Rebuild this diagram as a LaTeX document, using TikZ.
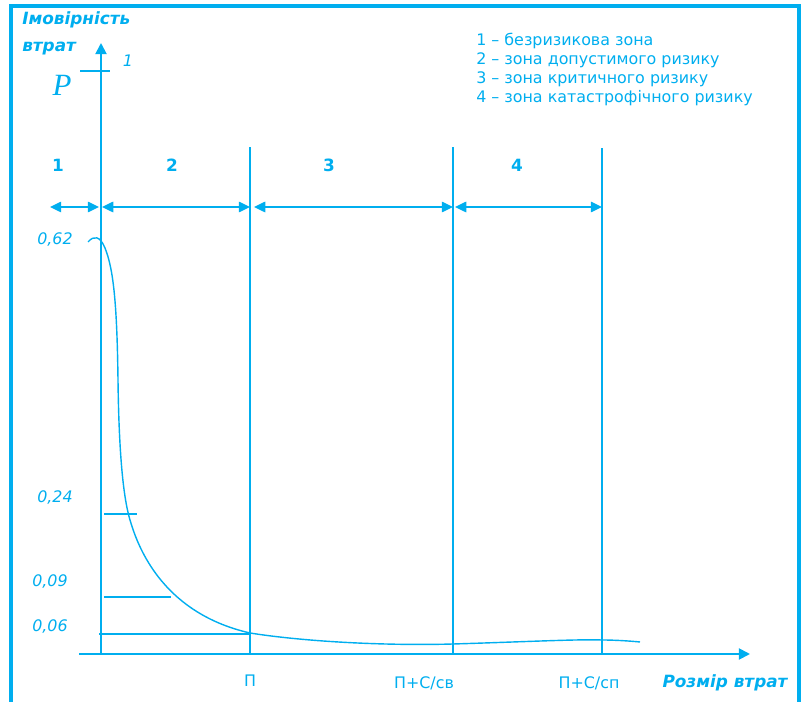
\documentclass[tikz,border=0pt]{standalone}
\usepackage{fontspec}
\setmainfont{DejaVu Sans}
\newfontfamily\pfont{Liberation Serif}
\usetikzlibrary{arrows.meta}
\definecolor{riskblue}{RGB}{0,174,239}

\tikzset{
    axis/.style={line width=1.3pt, -{Triangle[length=8pt, width=8pt]}},
    zoneline/.style={line width=1.2pt},
    zonespan/.style={line width=1.1pt, {Triangle[length=8pt, width=7.5pt]}-{Triangle[length=8pt, width=7.5pt]}},
    level/.style={line width=1pt},
    lbl/.style={font=\fontsize{11.3}{12}\selectfont},
    vallbl/.style={font=\fontsize{11.3}{12}\selectfont\itshape, anchor=east},
    zonenum/.style={font=\fontsize{12}{12}\selectfont\bfseries},
    title/.style={font=\fontsize{12}{19.5}\selectfont\bfseries\itshape}
}

\begin{document}
\begin{tikzpicture}[x=0.025cm, y=-0.025cm, color=riskblue, inner sep=0pt]
        \useasboundingbox (0, 0) rectangle (805, 702);

        % frame, open at the bottom
        \draw[line width=2.2pt] (11, 710) -- (11, 6) -- (799, 6) -- (799, 710);

        % axes
        \coordinate (origin) at (101, 654);
        \coordinate (ytop) at (101, 43);
        \coordinate (xleft) at (79, 654);
        \coordinate (xright) at (750, 654);
        \draw[axis] (origin) -- (ytop);
        \draw[axis] (xleft) -- (xright);

        % zone borders
        \coordinate (bP) at (250, 654);
        \coordinate (bPsv) at (453, 654);
        \coordinate (bPsp) at (602, 654);
        \coordinate (tP) at (250, 147);
        \coordinate (tPsv) at (453, 147);
        \coordinate (tPsp) at (602, 148);
        \draw[zoneline] (bP) -- (tP);
        \draw[zoneline] (bPsv) -- (tPsv);
        \draw[zoneline] (bPsp) -- (tPsp);

        % zone spans
        \coordinate (s0) at (50, 207);
        \coordinate (s1) at (99, 207);
        \coordinate (s2) at (102, 207);
        \coordinate (s3) at (250, 207);
        \coordinate (s4) at (254, 207);
        \coordinate (s5) at (453, 207);
        \coordinate (s6) at (455, 207);
        \coordinate (s7) at (602, 207);
        \draw[zonespan] (s0) -- (s1);
        \draw[zonespan] (s2) -- (s3);
        \draw[zonespan] (s4) -- (s5);
        \draw[zonespan] (s6) -- (s7);

        \node[zonenum] (z1) at (58, 165) {1};
        \node[zonenum] (z2) at (172, 165) {2};
        \node[zonenum] (z3) at (329, 165) {3};
        \node[zonenum] (z4) at (517, 165) {4};

        % unit tick
        \coordinate (t1a) at (80, 71);
        \coordinate (t1b) at (110, 71);
        \draw[level] (t1a) -- (t1b);
        \node[font=\fontsize{11.3}{12}\selectfont\itshape] (one) at (128, 61) {1};
        \node[font=\fontsize{22}{22}\selectfont\pfont\itshape] (P) at (62, 85) {P};

        % levels
        \coordinate (l24a) at (104, 514);
        \coordinate (l24b) at (137, 514);
        \coordinate (l09a) at (104, 597);
        \coordinate (l09b) at (171, 597);
        \coordinate (l06a) at (99, 634);
        \coordinate (l06b) at (250, 634);
        \draw[level] (l24a) -- (l24b);
        \draw[level] (l09a) -- (l09b);
        \draw[level] (l06a) -- (l06b);

        \node[vallbl] (v62) at (73, 240) {0,62};
        \node[vallbl] (v24) at (73, 498) {0,24};
        \node[vallbl] (v09) at (68, 582) {0,09};
        \node[vallbl] (v06) at (68, 627) {0,06};

        % loss curve
        \draw[line width=1pt] (88, 242) .. controls (94, 235) and (100, 236) .. (105, 248)
            .. controls (113, 268) and (117, 300) .. (118, 380)
            .. controls (119, 460) and (124, 500) .. (130, 520)
            .. controls (136, 540) and (158, 612) .. (250, 633)
            .. controls (300, 641) and (380, 646) .. (453, 644)
            .. controls (520, 642) and (580, 639) .. (602, 640)
            .. controls (615, 640) and (630, 641) .. (640, 642);

        % labels
        \node[title, anchor=north west, align=left] (ytitle) at (22, 11) {Імовірність\\втрат};
        \node[lbl] (xP) at (250, 681) {П};
        \node[lbl] (xPsv) at (424, 683) {П+С/св};
        \node[lbl] (xPsp) at (589, 683) {П+С/сп};
        \node[title] (xtitle) at (725, 683) {Розмір втрат};

        \node[lbl, anchor=north west, align=left, font=\fontsize{11.3}{13.6}\selectfont] (legend) at (476, 33)
            {1 – безризикова зона\\2 – зона допустимого ризику\\3 – зона критичного ризику\\4 – зона катастрофічного ризику};
    \end{tikzpicture}
\end{document}
